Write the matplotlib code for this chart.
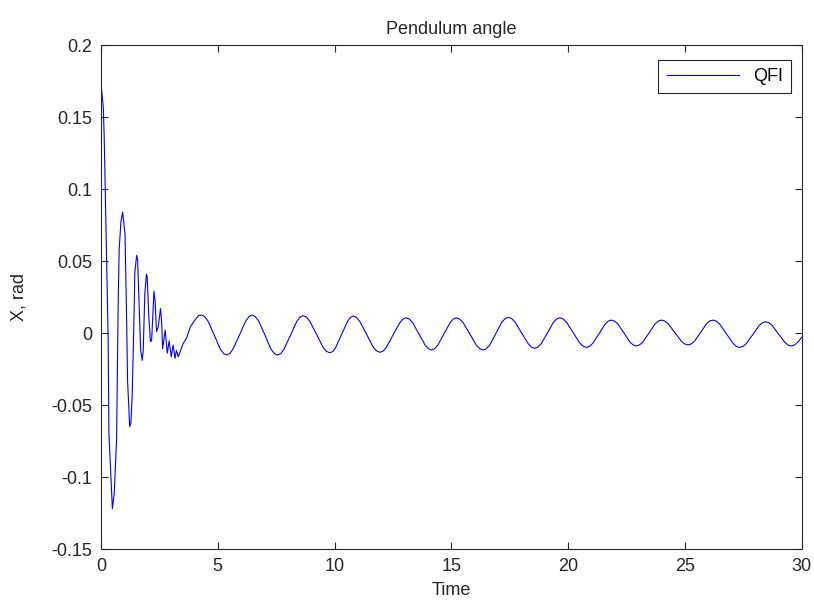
import matplotlib
matplotlib.use("Agg")
import matplotlib.pyplot as plt
from matplotlib.ticker import FuncFormatter

# ==========================================
# data
# ==========================================
# transient part (t < ~4.3 s)
T_TRANS = [0.0, 0.03, 0.10, 0.14, 0.24, 0.31, 0.34, 0.41, 0.49, 0.57, 0.67, 0.74,
           0.78, 0.86, 0.93, 1.03, 1.10, 1.14, 1.23, 1.28, 1.34, 1.42, 1.45, 1.53,
           1.57, 1.64, 1.70, 1.77, 1.81, 1.88, 1.95, 1.98, 2.05, 2.12, 2.17, 2.27,
           2.32, 2.38, 2.45, 2.55, 2.60, 2.64, 2.75, 2.84, 2.92, 3.01, 3.09, 3.17,
           3.23, 3.31, 3.41, 3.52, 3.66, 3.83, 4.02, 4.19]
X_TRANS = [0.166, 0.169, 0.157, 0.136, 0.055, -0.005, -0.069, -0.093, -0.122, -0.111, -0.074, 0.023,
           0.058, 0.078, 0.084, 0.069, 0.009, -0.033, -0.065, -0.063, -0.042, 0.014, 0.042, 0.054,
           0.051, 0.018, -0.012, -0.019, -0.012, 0.028, 0.041, 0.039, 0.011, -0.006, -0.005, 0.029,
           0.022, 0.001, 0.004, 0.017, 0.007, -0.011, 0.002, -0.014, -0.0055, -0.0165, -0.0083, -0.0176,
           -0.012, -0.0165, -0.012, -0.0072, -0.0037, 0.0044, 0.009, 0.0122]

# steady oscillation (t >= ~4.3 s), one row per half swing
T_OSC = [4.31, 4.44, 4.58, 4.85, 5.11, 5.25, 5.38,
         5.52, 5.65, 5.93, 6.20, 6.34, 6.48,
         6.61, 6.75, 7.02, 7.28, 7.42, 7.55,
         7.69, 7.83, 8.11, 8.38, 8.52, 8.66,
         8.80, 8.94, 9.23, 9.51, 9.66, 9.80,
         9.93, 10.05, 10.30, 10.55, 10.68, 10.80,
         10.94, 11.08, 11.37, 11.65, 11.80, 11.94,
         12.08, 12.22, 12.50, 12.79, 12.93, 13.07,
         13.20, 13.34, 13.61, 13.88, 14.02, 14.15,
         14.28, 14.42, 14.68, 14.95, 15.08, 15.21,
         15.35, 15.50, 15.79, 16.07, 16.22, 16.36,
         16.49, 16.63, 16.90, 17.16, 17.30, 17.43,
         17.57, 17.72, 18.00, 18.29, 18.43, 18.57,
         18.70, 18.84, 19.11, 19.37, 19.51, 19.64,
         19.78, 19.93, 20.21, 20.50, 20.64, 20.78,
         20.91, 21.05, 21.32, 21.58, 21.72, 21.85,
         21.98, 22.12, 22.39, 22.65, 22.79, 22.92,
         23.05, 23.19, 23.46, 23.72, 23.86, 23.99,
         24.13, 24.28, 24.56, 24.85, 24.99, 25.13,
         25.26, 25.40, 25.67, 25.93, 26.07, 26.20,
         26.34, 26.49, 26.77, 27.06, 27.20, 27.34,
         27.48, 27.62, 27.90, 28.17, 28.31, 28.45,
         28.59, 28.73, 29.00, 29.28, 29.41, 29.55,
         29.68, 29.82, 30.00]
X_OSC = [0.0125, 0.0114, 0.0084, -0.0014, -0.0112, -0.0142, -0.0153,
         -0.0142, -0.0112, -0.0014, 0.0084, 0.0114, 0.0125,
         0.0114, 0.0084, -0.0014, -0.0112, -0.0142, -0.0153,
         -0.0144, -0.0114, -0.0017, 0.0080, 0.0110, 0.0120,
         0.0110, 0.0082, -0.0009, -0.0100, -0.0128, -0.0137,
         -0.0128, -0.0100, -0.0010, 0.0080, 0.0108, 0.0118,
         0.0108, 0.0081, -0.0008, -0.0097, -0.0124, -0.0134,
         -0.0125, -0.0099, -0.0014, 0.0071, 0.0097, 0.0106,
         0.0097, 0.0073, -0.0006, -0.0085, -0.0109, -0.0118,
         -0.0109, -0.0085, -0.0006, 0.0073, 0.0097, 0.0106,
         0.0097, 0.0073, -0.0006, -0.0085, -0.0109, -0.0118,
         -0.0110, -0.0086, -0.0005, 0.0076, 0.0100, 0.0109,
         0.0102, 0.0078, 0.0002, -0.0074, -0.0098, -0.0106,
         -0.0098, -0.0075, 0.0000, 0.0075, 0.0098, 0.0106,
         0.0098, 0.0076, 0.0003, -0.0070, -0.0092, -0.0100,
         -0.0093, -0.0072, -0.0005, 0.0062, 0.0083, 0.0090,
         0.0083, 0.0064, 0.0000, -0.0064, -0.0083, -0.0090,
         -0.0083, -0.0064, 0.0000, 0.0064, 0.0083, 0.0090,
         0.0084, 0.0066, 0.0004, -0.0058, -0.0076, -0.0083,
         -0.0076, -0.0058, 0.0004, 0.0066, 0.0084, 0.0090,
         0.0083, 0.0062, -0.0005, -0.0072, -0.0093, -0.0100,
         -0.0093, -0.0074, -0.0011, 0.0052, 0.0071, 0.0078,
         0.0072, 0.0053, -0.0006, -0.0065, -0.0084, -0.0090,
         -0.0084, -0.0065, -0.0030]

X_TICKS = [0, 5, 10, 15, 20, 25, 30]
Y_TICKS = [-0.15, -0.1, -0.05, 0, 0.05, 0.1, 0.15, 0.2]

plt.rcParams['font.family'] = ['Liberation Sans', 'DejaVu Sans']
plt.rcParams['axes.unicode_minus'] = False

fig = plt.figure(figsize=(8.14, 6.01), dpi=100)
ax = fig.add_axes([0.124, 0.0865, 0.861, 0.8385])

t = T_TRANS + T_OSC
x = X_TRANS + X_OSC
ax.plot(t, x, color='#0000ff', linewidth=0.8, label='QFI')

ax.set_xlim(0, 30)
ax.set_ylim(-0.15, 0.2)
ax.set_xticks(X_TICKS)
ax.set_yticks(Y_TICKS)
ax.yaxis.set_major_formatter(FuncFormatter(lambda v, p: f"{v:g}"))

ax.tick_params(direction='in', top=True, right=True, length=5, width=0.8,
               labelsize=13, colors='#262626')
ax.tick_params(axis='x', pad=6.5)
ax.tick_params(axis='y', pad=6)
for s in ax.spines.values():
    s.set_color('#262626')
    s.set_linewidth(0.8)

ax.set_title("Pendulum angle", fontsize=13, color='#262626', pad=8)
ax.set_xlabel("Time", fontsize=13, color='#262626', labelpad=5)
ax.set_ylabel("X, rad", fontsize=13, color='#262626', labelpad=17)

leg = ax.legend(loc='upper right', fontsize=13, fancybox=False, framealpha=1,
                edgecolor='#262626', handlelength=4.0, borderpad=0.45,
                bbox_to_anchor=(0.998, 0.988))
leg.get_frame().set_linewidth(0.8)

fig.savefig("out.png", dpi=100)
